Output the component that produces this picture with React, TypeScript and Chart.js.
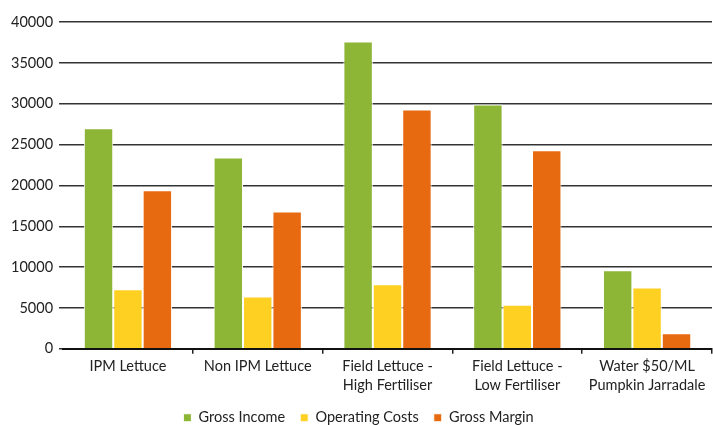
import React, { useEffect, useRef } from "react";
import { Chart, registerables } from "chart.js";

Chart.register(...registerables);

const categories: (string | string[])[] = [
  "IPM Lettuce",
  "Non IPM Lettuce",
  ["Field Lettuce -", "High Fertiliser"],
  ["Field Lettuce -", "Low Fertiliser"],
  ["Water $50/ML", "Pumpkin Jarradale"],
];
const grossIncome = [27000, 23400, 37600, 29900, 9600];
const operatingCosts = [7300, 6400, 7900, 5400, 7500];
const grossMargin = [19400, 16800, 29300, 24300, 1900];
const yTicks = [0, 5000, 10000, 15000, 20000, 25000, 30000, 35000, 40000];

export default function App() {
  const ref = useRef<HTMLCanvasElement>(null);
  useEffect(() => {
    document.body.style.margin = "0";
    const ctx = ref.current!;
    const font = { family: "Lato", size: 14.5, lineHeight: 1.3 };
    const chart = new Chart(ctx, {
      type: "bar",
      data: {
        labels: categories,
        datasets: [
          { label: "Gross Income", data: grossIncome, backgroundColor: "#8DB536" },
          { label: "Operating Costs", data: operatingCosts, backgroundColor: "#FDD022" },
          { label: "Gross Margin", data: grossMargin, backgroundColor: "#E86A10" },
        ].map((d) => ({
          ...d,
          borderColor: "#ffffff",
          borderWidth: 1,
          categoryPercentage: 0.68,
          barPercentage: 1,
        })),
      },
      options: {
        animation: false,
        responsive: false,
        maintainAspectRatio: false,
        layout: { padding: { left: 5, right: 1, top: 22, bottom: -10 } },
        plugins: {
          tooltip: { enabled: false },
          legend: {
            position: "bottom",
            labels: {
              font: { family: "Lato", size: 14.5, lineHeight: 1.2 },
              color: "#222",
              usePointStyle: true,
              pointStyle: "rect",
              boxWidth: 8,
              boxHeight: 8,
              padding: 15,
            },
          },
        },
        scales: {
          x: {
            afterFit: (scale: any) => {
              scale.height -= 2;
            },
            grid: {
              display: true,
              drawOnChartArea: false,
              drawTicks: true,
              tickLength: 5,
              color: (c: any) =>
                c.index === 0 || c.index >= categories.length ? "rgba(0,0,0,0)" : "#222",
              lineWidth: 1.5,
            },
            border: { display: true, color: "#111", width: 2 },
            ticks: { font, color: "#222", maxRotation: 0, autoSkip: false, padding: 3 },
          },
          y: {
            min: 0,
            max: 40000,
            afterBuildTicks: (axis: any) => {
              axis.ticks = yTicks.map((v) => ({ value: v }));
            },
            grid: { color: "#333", lineWidth: 1.5, tickLength: 4 },
            border: { display: false },
            ticks: {
              font,
              color: "#222",
              padding: 6,
              callback: (v: any) => String(v),
            },
          },
        },
      },
    });
    return () => chart.destroy();
  }, []);
  return (
    <div style={{ width: 713, height: 425 }}>
      <canvas ref={ref} width={713} height={425} />
    </div>
  );
}
